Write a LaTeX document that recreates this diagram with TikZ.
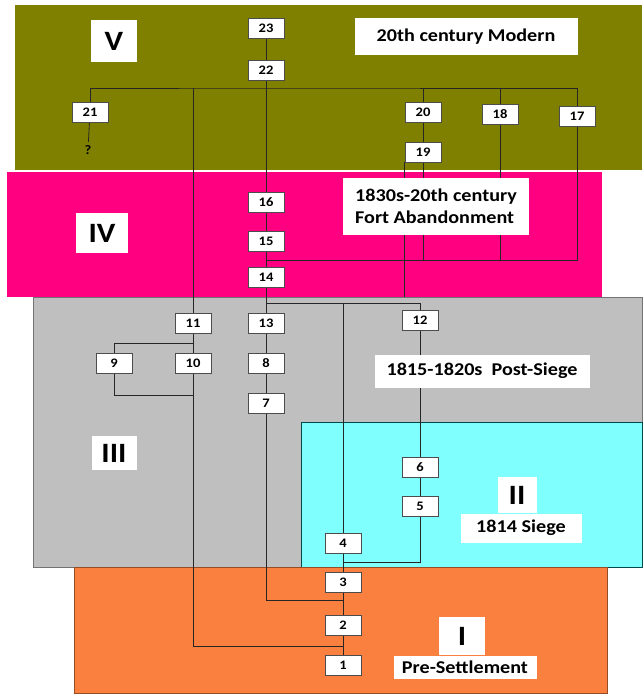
\documentclass[tikz,border=0pt]{standalone}
\usepackage{fontspec}
\setmainfont{Carlito}[FakeStretch=1.12]
\usepackage{xcolor}
\definecolor{phaseV}{RGB}{128,128,0}
\definecolor{phaseIV}{RGB}{255,0,128}
\definecolor{phaseIII}{RGB}{191,191,191}
\definecolor{phaseII}{RGB}{128,255,255}
\definecolor{phaseI}{RGB}{250,128,64}
\pgfdeclarelayer{bg}
\pgfdeclarelayer{links}
\pgfsetlayers{bg,links,main}

\begin{document}
\begin{tikzpicture}[
    x=1pt, y=-1pt,
    ctx/.style={draw=black!70, fill=white, line width=0.8pt,
                font=\fontsize{13}{15}\selectfont\bfseries,
                minimum width=36pt, minimum height=20pt, inner sep=1pt},
    roman/.style={fill=white, inner sep=0pt,
                  font=\fontsize{28}{30}\selectfont\bfseries},
    period/.style={fill=white, inner sep=3pt, align=left,
                   font=\fontsize{18}{22}\selectfont\bfseries},
    link/.style={black!85, line width=0.8pt},
]
\begin{pgfonlayer}{bg}
\fill[white] (0,0) rectangle (642,698);
\fill[phaseV] (15,5) rectangle (642,170);
\fill[phaseIV] (7,172) rectangle (602,297);
\filldraw[fill=phaseIII, draw=black!55, line width=0.6pt] (33,297) rectangle (642,567);
\filldraw[fill=phaseII, draw=teal!60!black, line width=0.6pt] (301,422) rectangle (642,567);
\filldraw[fill=phaseI, draw=phaseI!60!black, line width=0.6pt] (74,567) rectangle (607,693);
\end{pgfonlayer}

\node[roman, minimum width=46pt, minimum height=42pt] (rV) at (114,41) {V};
\node[roman, minimum width=52pt, minimum height=40pt] (rIV) at (102,233) {IV};
\node[roman, minimum width=45pt, minimum height=34pt] (rIII) at (114,453) {III};
\node[roman, minimum width=39pt, minimum height=36pt] (rII) at (517,495) {II};
\node[roman, minimum width=46pt, minimum height=38pt] (rI) at (462,636) {I};

\node[period, minimum width=223pt, minimum height=37pt] (tV) at (466,37) {20th century Modern};
\node[period, minimum width=186pt, minimum height=57pt] (tIV) at (436,206) {1830s-20th century\\Fort Abandonment};
\node[period, minimum width=215pt, minimum height=33pt] (tIII) at (482,371) {1815-1820s\ \ Post-Siege};
\node[period, minimum width=121pt, minimum height=29pt] (tII) at (521,528) {1814 Siege};
\node[period, minimum width=143pt, minimum height=23pt] (tI) at (465,667) {Pre-Settlement};

\node[ctx] (d23) at (266,28) {23};
\node[ctx] (d22) at (266,70) {22};
\node[ctx] (d21) at (90,112) {21};
\node[font=\fontsize{13}{15}\selectfont\bfseries] (unk) at (88,150) {?};
\node[ctx] (d20) at (423,112) {20};
\node[ctx] (d19) at (423,152) {19};
\node[ctx] (d18) at (500,114) {18};
\node[ctx] (d17) at (577,116) {17};
\node[ctx] (d16) at (266,202) {16};
\node[ctx] (d15) at (266,241) {15};
\node[ctx] (d14) at (266,277) {14};
\node[ctx] (d13) at (266,323) {13};
\node[ctx] (d12) at (420,320) {12};
\node[ctx] (d11) at (193,323) {11};
\node[ctx] (d10) at (193,363) {10};
\node[ctx] (d9) at (114,363) {9};
\node[ctx] (d8) at (266,363) {8};
\node[ctx] (d7) at (266,403) {7};
\node[ctx] (d6) at (420,467) {6};
\node[ctx] (d5) at (420,506) {5};
\node[ctx] (d4) at (343,543) {4};
\node[ctx] (d3) at (343,582) {3};
\node[ctx] (d2) at (343,625) {2};
\node[ctx] (d1) at (343,665) {1};

\begin{pgfonlayer}{links}
\coordinate (jV) at (266,88);
\coordinate (jIV) at (266,260);
\coordinate (jIII) at (266,303);
\coordinate (jEnd) at (406,297);
\coordinate (j9) at (193,343);
\coordinate (j10) at (193,395);
\coordinate (j4) at (343,562);
\coordinate (j3) at (343,600);
\coordinate (j2) at (343,646);
\draw[link] (d23) -- (d22) -- (d16) -- (d15) -- (d14) -- (d13) -- (d8) -- (d7);
\draw[link] (d21.north) |- (jV) -| (d17.north);
\draw[link] (d11.north |- jV) -- (d11);
\draw[link] (d20.north |- jV) -- (d20);
\draw[link] (d18.north |- jV) -- (d18);
\draw[link] (d21) -- (unk);
\draw[link] (d20) -- (d19);
\draw[link] (d19) |- (jIV);
\draw[link] (d18) |- (jIV);
\draw[link] (d17) |- (jIV);
\draw[link] (d19.south west) -- (d19.south west |- jEnd);
\draw[link] (jIII) -| (d12);
\draw[link] (jIII) -| (d4);
\draw[link] (d12) -- (d6) -- (d5);
\draw[link] (d5) |- (j4);
\draw[link] (d11) -- (d10);
\draw[link] (j9) -| (d9);
\draw[link] (d9) |- (j10);
\draw[link] (d10) |- (j2);
\draw[link] (d7) |- (j3);
\draw[link] (d4) -- (d3) -- (d2) -- (d1);
\end{pgfonlayer}
\end{tikzpicture}
\end{document}
